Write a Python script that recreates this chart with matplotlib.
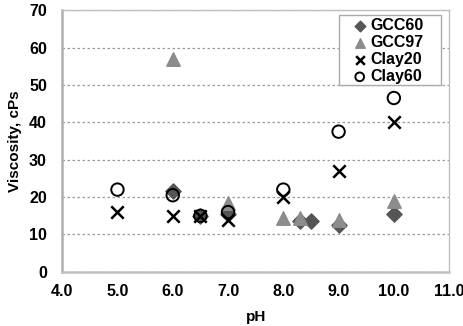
import matplotlib
matplotlib.use("Agg")
import matplotlib.pyplot as plt
from matplotlib.patches import Rectangle

plt.rcParams['font.family'] = ['Liberation Sans', 'DejaVu Sans']

# Viscosity vs pH for each suspension
gcc60_ph = [6.0, 6.5, 7.0, 8.3, 8.5, 9.0, 10.0]
gcc60_visc = [21.5, 15.0, 15.5, 13.5, 13.5, 12.5, 15.5]

gcc97_ph = [6.0, 7.0, 8.0, 8.3, 9.0, 10.0]
gcc97_visc = [57.0, 18.5, 14.5, 14.5, 14.0, 19.0]

clay20_ph = [5.0, 6.0, 6.5, 7.0, 8.0, 9.0, 10.0]
clay20_visc = [16.0, 15.0, 15.0, 14.0, 20.0, 27.0, 40.0]

clay60_ph = [5.0, 6.0, 6.5, 7.0, 8.0, 9.0, 10.0]
clay60_visc = [22.0, 20.5, 15.0, 16.0, 22.0, 37.5, 46.5]

x_ticks = [4.0, 5.0, 6.0, 7.0, 8.0, 9.0, 10.0, 11.0]
y_ticks = [0, 10, 20, 30, 40, 50, 60, 70]

fig = plt.figure(figsize=(4.64, 3.26), dpi=100)
ax = fig.add_axes([0.134, 0.166, 0.834, 0.803])

ax.scatter(gcc60_ph, gcc60_visc, marker='D', s=60, color='#555555',
           edgecolors='#555555', label='GCC60', zorder=3)
ax.scatter(gcc97_ph, gcc97_visc, marker='^', s=95, color='#8c8c8c',
           edgecolors='#8c8c8c', label='GCC97', zorder=3)
ax.scatter(clay20_ph, clay20_visc, marker='x', s=80, color='black',
           linewidths=1.8, label='Clay20', zorder=4)
ax.scatter(clay60_ph, clay60_visc, marker='o', s=80, facecolors='none',
           edgecolors='black', linewidths=1.4, label='Clay60', zorder=4)

ax.set_xlim(4.0, 11.0)
ax.set_ylim(0, 70)
ax.set_xticks(x_ticks)
ax.set_xticklabels([f"{t:.1f}" for t in x_ticks])
ax.set_yticks(y_ticks)
ax.set_yticklabels([str(t) for t in y_ticks])

for lbl in ax.get_xticklabels() + ax.get_yticklabels():
    lbl.set_fontweight('bold')
    lbl.set_fontsize(11.5)
ax.tick_params(axis='y', length=0, pad=11)
ax.tick_params(axis='x', length=0, pad=9)

ax.grid(axis='y', linestyle=(0, (2, 2)), color='#999999', linewidth=0.9)
ax.set_axisbelow(True)
for side in ['top', 'right', 'bottom']:
    ax.spines[side].set_color('#c0c0c0')
    ax.spines[side].set_linewidth(1.0)
ax.spines['left'].set_color('#b0b0b0')
ax.spines['left'].set_linewidth(1.8)
ax.spines['bottom'].set_linewidth(1.8)

ax.set_xlabel('pH', fontweight='bold', fontsize=11, labelpad=8)
ax.set_ylabel('Viscosity, cPs', fontweight='bold', fontsize=11, labelpad=5)

# legend box with generous side padding
box = Rectangle((0.716, 0.714), 0.263, 0.267, transform=ax.transAxes,
                facecolor='white', edgecolor='#aaaaaa', linewidth=1.0,
                zorder=5)
ax.add_patch(box)
leg = ax.legend(loc='upper left', bbox_to_anchor=(0.742, 0.981),
                prop={'weight': 'bold', 'size': 11.5}, handletextpad=0.25,
                handlelength=0.9, borderpad=0.2, labelspacing=0.12,
                borderaxespad=0.0, frameon=False, markerscale=0.7)
leg.set_zorder(6)

fig.savefig('out.png', dpi=100)
